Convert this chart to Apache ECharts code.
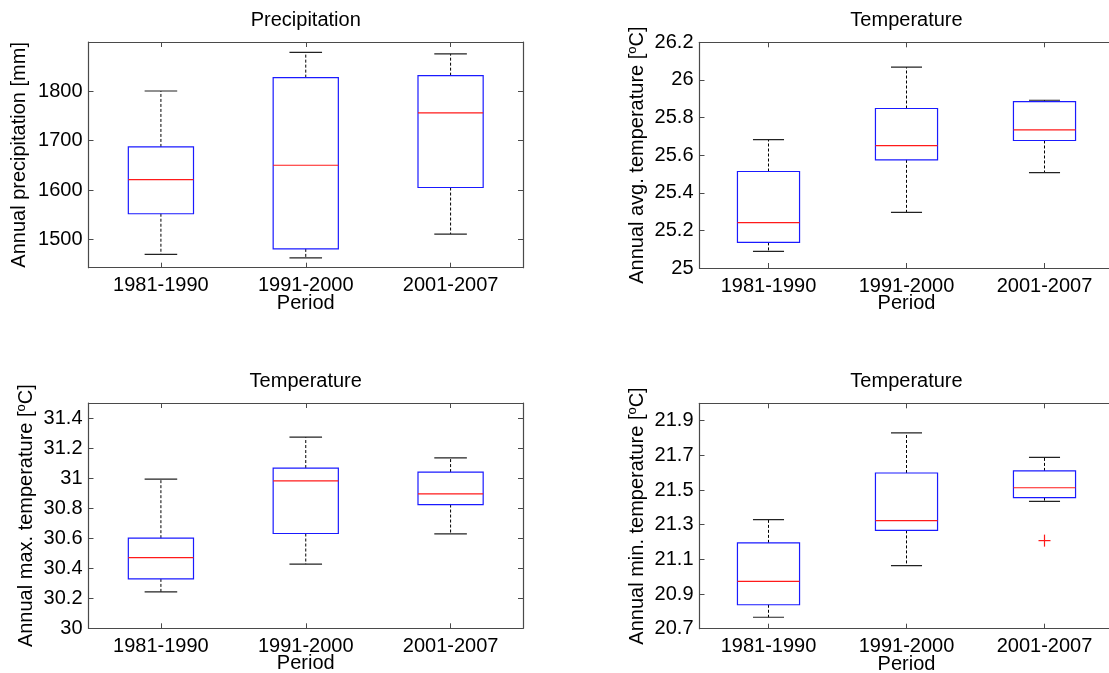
<!DOCTYPE html>
<html>
<head>
<meta charset="utf-8">
<title>Precipitation and temperature by period</title>
<script src="https://cdn.jsdelivr.net/npm/echarts@6/dist/echarts.min.js"></script>
<style>
  html, body { margin: 0; padding: 0; background: #ffffff; }
  #chart { width: 1109px; height: 673px; }
</style>
</head>
<body>
<div id="chart"></div>
<script>
// Periods on the x axis of every panel
const categories = ['1981-1990', '1991-2000', '2001-2007'];

// Box statistics per period: [lower whisker, Q1, median, Q3, upper whisker]
const precipStats = [
  [1470, 1552, 1621, 1687, 1800],
  [1463, 1481, 1650, 1827, 1878],
  [1511, 1605, 1756, 1831, 1875]
];
const tavgStats = [
  [25.088, 25.136, 25.241, 25.513, 25.683],
  [25.296, 25.575, 25.651, 25.848, 26.068],
  [25.507, 25.678, 25.734, 25.885, 25.892]
];
const tmaxStats = [
  [30.243, 30.329, 30.471, 30.600, 30.993],
  [30.427, 30.631, 30.982, 31.067, 31.273],
  [30.629, 30.824, 30.895, 31.040, 31.135]
];
const tminStats = [
  [20.766, 20.838, 20.973, 21.195, 21.329],
  [21.064, 21.267, 21.323, 21.598, 21.829],
  [21.434, 21.456, 21.513, 21.610, 21.688]
];

// Outliers: [period index, value]
const precipOutliers = [];
const tavgOutliers = [];
const tmaxOutliers = [];
const tminOutliers = [[2, 21.208]];

// Y tick labels
const precipTicks = [1500, 1600, 1700, 1800];
const tavgTicks = [25, 25.2, 25.4, 25.6, 25.8, 26, 26.2];
const tmaxTicks = [30, 30.2, 30.4, 30.6, 30.8, 31, 31.2, 31.4];
const tminTicks = [20.7, 20.9, 21.1, 21.3, 21.5, 21.7, 21.9];

// Y ranges
const precipRange = [1443, 1899];
const tavgRange = [25, 26.2];
const tmaxRange = [30, 31.5];
const tminRange = [20.7, 22.0];

const FONT = '"Liberation Sans", Arial, Helvetica, sans-serif';
const FRAME = '#4a4a4a';

// Right-column panels run past the page edge, so their right frame is not drawn
const panels = [
  { title: 'Precipitation', ylabel: '{a|Annual precipitation [mm]}',
    stats: precipStats, outliers: precipOutliers, ticks: precipTicks, range: precipRange,
    grid: { left: 88.5, top: 42, width: 434.5, height: 225.7 }, ylabelX: 19, rightFrame: true },
  { title: 'Temperature', ylabel: '{a|Annual avg. temperature [}{s|o}{a|C]}',
    stats: tavgStats, outliers: tavgOutliers, ticks: tavgTicks, range: tavgRange,
    grid: { left: 699.5, top: 42.3, width: 414, height: 225.7 }, ylabelX: 637, rightFrame: false },
  { title: 'Temperature', ylabel: '{a|Annual max. temperature [}{s|o}{a|C]}',
    stats: tmaxStats, outliers: tmaxOutliers, ticks: tmaxTicks, range: tmaxRange,
    grid: { left: 88.5, top: 403, width: 434.5, height: 225.3 }, ylabelX: 26, rightFrame: true },
  { title: 'Temperature', ylabel: '{a|Annual min. temperature [}{s|o}{a|C]}',
    stats: tminStats, outliers: tminOutliers, ticks: tminTicks, range: tminRange,
    grid: { left: 699.5, top: 403.3, width: 414, height: 225.4 }, ylabelX: 637, rightFrame: false }
];

// One box: dashed whiskers with short caps, blue box, red median
function renderBox(params, api) {
  const x = api.value(0);
  const lo = api.coord([x, api.value(1)]);
  const q1 = api.coord([x, api.value(2)]);
  const med = api.coord([x, api.value(3)]);
  const q3 = api.coord([x, api.value(4)]);
  const hi = api.coord([x, api.value(5)]);
  const band = api.size([1, 0])[0];
  const hw = band * 0.225;
  const cw = hw / 2;
  const cx = med[0];
  const dash = { stroke: '#000000', lineWidth: 1, lineDash: [3, 2] };
  const cap = { stroke: '#222222', lineWidth: 1.2 };
  return {
    type: 'group',
    children: [
      { type: 'line', shape: { x1: cx, y1: q3[1], x2: cx, y2: hi[1] }, style: dash },
      { type: 'line', shape: { x1: cx, y1: q1[1], x2: cx, y2: lo[1] }, style: dash },
      { type: 'line', shape: { x1: cx - cw, y1: hi[1], x2: cx + cw, y2: hi[1] }, style: cap },
      { type: 'line', shape: { x1: cx - cw, y1: lo[1], x2: cx + cw, y2: lo[1] }, style: cap },
      { type: 'rect', shape: { x: cx - hw, y: q3[1], width: 2 * hw, height: q1[1] - q3[1] },
        style: { fill: 'none', stroke: '#1a1aff', lineWidth: 1.2 } },
      { type: 'line', shape: { x1: cx - hw, y1: med[1], x2: cx + hw, y2: med[1] },
        style: { stroke: '#ff1a1a', lineWidth: 1.2 } }
    ]
  };
}

// Outlier marker: red plus sign
function renderOutlier(params, api) {
  const p = api.coord([api.value(0), api.value(1)]);
  const r = 6;
  const st = { stroke: '#ff1a1a', lineWidth: 1.2 };
  return {
    type: 'group',
    children: [
      { type: 'line', shape: { x1: p[0] - r, y1: p[1], x2: p[0] + r, y2: p[1] }, style: st },
      { type: 'line', shape: { x1: p[0], y1: p[1] - r, x2: p[0], y2: p[1] + r }, style: st }
    ]
  };
}

const plainNumber = (v) => String(v);

const grids = [], xAxes = [], yAxes = [], series = [], texts = [];

panels.forEach((pn, i) => {
  grids.push(Object.assign({ containLabel: false, outerBoundsMode: 'none' }, pn.grid));

  const tick = { show: true, inside: true, length: 5, alignWithLabel: true, lineStyle: { color: FRAME, width: 1 } };
  const line = { show: true, onZero: false, lineStyle: { color: FRAME, width: 1.2 } };

  // bottom and mirrored top category axes
  xAxes.push({
    type: 'category', gridIndex: i, data: categories, position: 'bottom', boundaryGap: true,
    axisLine: line, axisTick: tick,
    axisLabel: { color: '#000', fontSize: 20, fontFamily: FONT, margin: 8 },
    splitLine: { show: false }
  });
  xAxes.push({
    type: 'category', gridIndex: i, data: categories, position: 'top', boundaryGap: true,
    axisLine: line, axisTick: tick, axisLabel: { show: false }, splitLine: { show: false }
  });

  // left and mirrored right value axes
  const ytick = { show: true, inside: true, length: 5, customValues: pn.ticks, lineStyle: { color: FRAME, width: 1 } };
  yAxes.push({
    type: 'value', gridIndex: i, position: 'left', min: pn.range[0], max: pn.range[1],
    axisLine: line, axisTick: ytick,
    axisLabel: { color: '#000', fontSize: 20, fontFamily: FONT, margin: 6,
                 customValues: pn.ticks, formatter: plainNumber },
    splitLine: { show: false }
  });
  yAxes.push({
    type: 'value', gridIndex: i, position: 'right', min: pn.range[0], max: pn.range[1],
    show: pn.rightFrame,
    axisLine: line, axisTick: ytick,
    axisLabel: { show: false, customValues: pn.ticks }, splitLine: { show: false }
  });

  series.push({
    type: 'custom', name: pn.title + ' ' + i,
    xAxisIndex: 2 * i, yAxisIndex: 2 * i,
    data: pn.stats.map((s, k) => [k].concat(s)),
    encode: { x: 0, y: [1, 2, 3, 4, 5] },
    renderItem: renderBox,
    silent: true
  });
  if (pn.outliers.length) {
    series.push({
      type: 'custom', name: 'outliers ' + i,
      xAxisIndex: 2 * i, yAxisIndex: 2 * i,
      data: pn.outliers,
      encode: { x: 0, y: 1 },
      renderItem: renderOutlier,
      silent: true
    });
  }

  const g = pn.grid;
  const cx = g.left + g.width / 2;
  const cy = g.top + g.height / 2;
  texts.push({
    type: 'text', x: cx, y: g.top - 21.5,
    style: { text: pn.title, fill: '#000', font: '20px ' + FONT, align: 'center', verticalAlign: 'middle' }
  });
  texts.push({
    type: 'text', x: cx, y: g.top + g.height + 35.5,
    style: { text: 'Period', fill: '#000', font: '20px ' + FONT, align: 'center', verticalAlign: 'middle' }
  });
  texts.push({
    type: 'text', x: pn.ylabelX, y: cy, rotation: Math.PI / 2,
    style: {
      text: pn.ylabel, align: 'center', verticalAlign: 'middle',
      rich: {
        a: { fontSize: 20, fontFamily: FONT, fill: '#000', lineHeight: 22 },
        s: { fontSize: 13, fontFamily: FONT, fill: '#000', verticalAlign: 'top', lineHeight: 22 }
      }
    }
  });
});

const chart = echarts.init(document.getElementById('chart'), null, { renderer: 'canvas' });
chart.setOption({
  backgroundColor: '#ffffff',
  animation: false,
  grid: grids,
  xAxis: xAxes,
  yAxis: yAxes,
  series: series,
  graphic: { elements: texts }
});
</script>
</body>
</html>
